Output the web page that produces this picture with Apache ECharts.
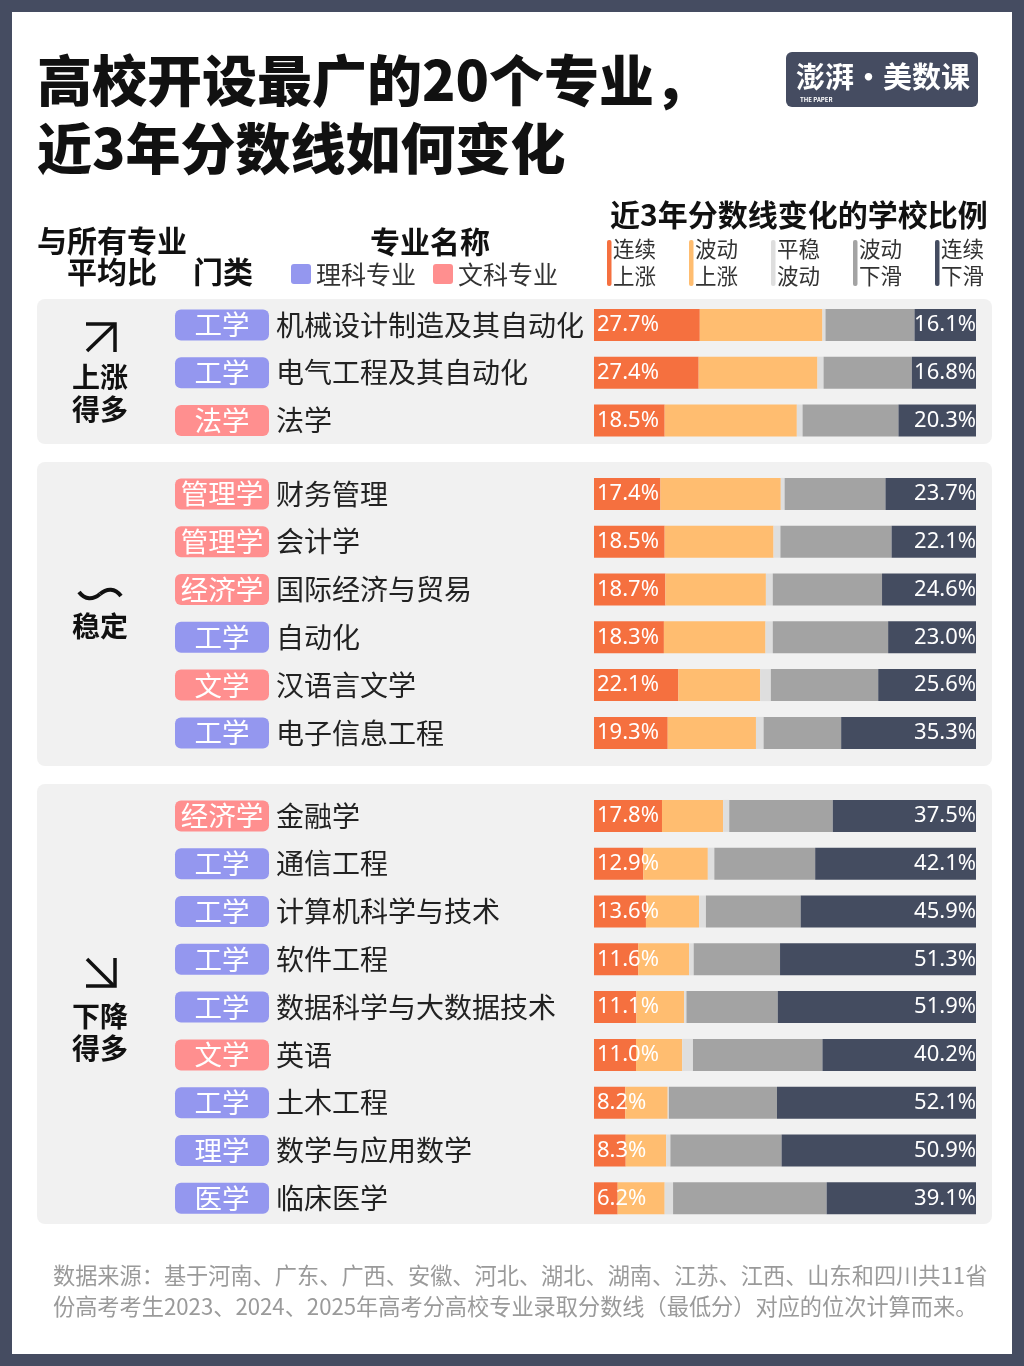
<!DOCTYPE html>
<html>
<head>
<meta charset="utf-8">
<script src="https://cdn.jsdelivr.net/npm/echarts@6/dist/echarts.min.js"></script>
<style>
    html, body { margin: 0; padding: 0; width: 100%; height: 100%; }
    #main { width: 1024px; height: 1366px; }
</style>
</head>
<body>
<div id="main"></div>
<script>
// 专业名称（从上到下）
var majors = ['机械设计制造及其自动化', '电气工程及其自动化', '法学',
    '财务管理', '会计学', '国际经济与贸易', '自动化', '汉语言文学', '电子信息工程',
    '金融学', '通信工程', '计算机科学与技术', '软件工程', '数据科学与大数据技术',
    '英语', '土木工程', '数学与应用数学', '临床医学'];
// 门类
var tags = ['工学', '工学', '法学',
    '管理学', '管理学', '经济学', '工学', '文学', '工学',
    '经济学', '工学', '工学', '工学', '工学', '文学', '工学', '理学', '医学'];
// 理科 / 文科
var kinds = ['sci', 'sci', 'art',
    'art', 'art', 'art', 'sci', 'art', 'sci',
    'art', 'sci', 'sci', 'sci', 'sci', 'art', 'sci', 'sci', 'sci'];
// 每组行数：上涨得多 / 稳定 / 下降得多
var groupSizes = [3, 6, 9];

// 五类学校比例（%）
var riseAll   = [27.7, 27.4, 18.5, 17.4, 18.5, 18.7, 18.3, 22.1, 19.3, 17.8, 12.9, 13.6, 11.6, 11.1, 11.0, 8.2, 8.3, 6.2];
var riseWave  = [32.1, 31.1, 34.6, 31.5, 28.5, 26.3, 26.6, 21.4, 23.1, 16.0, 16.9, 13.9, 13.3, 12.5, 12.1, 11.1, 10.6, 12.3];
var flat      = [0.8, 1.6, 1.5, 1.0, 1.8, 1.8, 1.9, 2.8, 2.0, 1.6, 1.7, 1.8, 1.2, 0.6, 2.8, 0.3, 1.1, 2.2];
var fallWave  = [23.3, 23.1, 25.1, 26.4, 29.1, 28.6, 30.2, 28.1, 20.3, 27.1, 26.4, 24.8, 22.6, 23.9, 33.9, 28.3, 29.1, 40.2];
var fallAll   = [16.1, 16.8, 20.3, 23.7, 22.1, 24.6, 23.0, 25.6, 35.3, 37.5, 42.1, 45.9, 51.3, 51.9, 40.2, 52.1, 50.9, 39.1];

var seriesNames = ['连续上涨', '波动上涨', '平稳波动', '波动下滑', '连续下滑'];
var seriesData = [riseAll, riseWave, flat, fallWave, fallAll];
var colors = ['#f5703f', '#ffbd70', '#dedede', '#a3a3a3', '#444c60'];

var CJK = "'Noto Sans CJK SC', sans-serif";
var NUM = "'Noto Sans', 'Noto Sans CJK SC', sans-serif";

var chart = echarts.init(document.getElementById('main'));

// 三个分组各用一个 grid
var rowH = 47.8;
var groupTops = [301, 470, 792];
var grids = [], xAxes = [], yAxes = [], series = [];
var start = 0;
for (var g = 0; g < groupSizes.length; g++) {
    var n = groupSizes[g];
    var idx = [];
    for (var k = start; k < start + n; k++) idx.push(k);
    grids.push({ left: 594, width: 382, top: groupTops[g], height: n * rowH });
    xAxes.push({ type: 'value', gridIndex: g, min: 0, max: 100, show: false });
    yAxes.push({
        type: 'category', gridIndex: g, inverse: true,
        data: idx.map(function (i) { return majors[i]; }),
        axisLine: { show: false }, axisTick: { show: false },
        axisLabel: {
            interval: 0, align: 'left', margin: 419,
            formatter: (function (ids) {
                return function (v, j) {
                    var i = ids[j];
                    return '{' + kinds[i] + '|' + tags[i] + '}{name|' + v + '}';
                };
            })(idx),
            rich: {
                sci: { backgroundColor: '#9497ef', color: '#fff', width: 94, height: 31, lineHeight: 31,
                       align: 'center', borderRadius: 6, fontSize: 27.5, fontFamily: CJK },
                art: { backgroundColor: '#ff8f8f', color: '#fff', width: 94, height: 31, lineHeight: 31,
                       align: 'center', borderRadius: 6, fontSize: 27.5, fontFamily: CJK },
                name: { color: '#222', fontSize: 28, fontFamily: CJK, padding: [0, 0, 0, 7] }
            }
        }
    });
    for (var s = 0; s < 5; s++) {
        var lbl = { show: false };
        if (s === 0 || s === 4) {
            lbl = {
                show: true, position: s === 0 ? 'insideLeft' : 'insideRight',
                distance: s === 0 ? 3 : 0,
                color: '#fff', fontSize: 22, fontFamily: NUM,
                formatter: function (p) { return p.value.toFixed(1) + '%'; }
            };
        }
        series.push({
            type: 'bar', name: seriesNames[s], stack: 'g' + g,
            xAxisIndex: g, yAxisIndex: g, barWidth: 32,
            itemStyle: { color: colors[s] },
            label: lbl, silent: true,
            data: idx.map(function (i) { return seriesData[s][i]; })
        });
    }
    start += n;
}

function txt(x, y, text, size, weight, color, align) {
    return {
        type: 'text', x: x, y: y, z: 5,
        style: {
            text: text, fontSize: size, fontWeight: weight || 'normal', fill: color || '#111',
            fontFamily: CJK, textAlign: align || 'left', textVerticalAlign: 'middle'
        }
    };
}

var graphics = [
    { type: 'rect', z: -10, shape: { x: 12, y: 12, width: 1000, height: 1342 }, style: { fill: '#fff' } },
    { type: 'rect', z: -5, shape: { x: 37, y: 299, width: 955, height: 145, r: 8 }, style: { fill: '#f1f1f1' } },
    { type: 'rect', z: -5, shape: { x: 37, y: 462, width: 955, height: 304, r: 8 }, style: { fill: '#f1f1f1' } },
    { type: 'rect', z: -5, shape: { x: 37, y: 784, width: 955, height: 440, r: 8 }, style: { fill: '#f1f1f1' } },

    txt(37, 80, '高校开设最广的20个专业，', 55, 900, '#111'),
    txt(37, 148, '近3年分数线如何变化', 55, 900, '#111'),

    { type: 'rect', z: 4, shape: { x: 786, y: 52, width: 192, height: 55, r: 6 }, style: { fill: '#454c61' } },
    txt(883, 77, '澎湃·美数课', 29, 'bold', '#fff', 'center'),
    txt(800, 100, 'THE PAPER', 6, 'bold', '#fff'),

    txt(610, 215, '近3年分数线变化的学校比例', 30, 'bold', '#111'),
    txt(37, 241, '与所有专业', 30, 'bold', '#111'),
    txt(67, 272, '平均比', 30, 'bold', '#111'),
    txt(193, 272, '门类', 30, 'bold', '#111'),
    txt(370, 242, '专业名称', 30, 'bold', '#111'),
    { type: 'rect', z: 4, shape: { x: 291, y: 264, width: 20, height: 20, r: 3 }, style: { fill: '#9497ef' } },
    txt(316, 274, '理科专业', 25, 'normal', '#333'),
    { type: 'rect', z: 4, shape: { x: 433, y: 264, width: 20, height: 20, r: 3 }, style: { fill: '#ff8f8f' } },
    txt(458, 274, '文科专业', 25, 'normal', '#333'),

    // 分组说明
    { type: 'polyline', z: 5, shape: { points: [[87, 351], [115, 324]] }, style: { stroke: '#111', lineWidth: 3.5, fill: null } },
    { type: 'polyline', z: 5, shape: { points: [[86, 324], [115, 324], [115, 352]] }, style: { stroke: '#111', lineWidth: 3.5, fill: null } },
    txt(100, 377, '上涨', 28, 'bold', '#111', 'center'),
    txt(100, 409, '得多', 28, 'bold', '#111', 'center'),
    { type: 'bezierCurve', z: 5, shape: { x1: 79, y1: 592, cpx1: 85, cpy1: 600, cpx2: 93, cpy2: 600, x2: 100, y2: 594 },
      style: { stroke: '#111', lineWidth: 4, fill: null } },
    { type: 'bezierCurve', z: 5, shape: { x1: 100, y1: 594, cpx1: 107, cpy1: 588, cpx2: 115, cpy2: 588, x2: 121, y2: 596 },
      style: { stroke: '#111', lineWidth: 4, fill: null } },
    txt(100, 626, '稳定', 28, 'bold', '#111', 'center'),
    { type: 'polyline', z: 5, shape: { points: [[87, 959], [114, 986]] }, style: { stroke: '#111', lineWidth: 3.5, fill: null } },
    { type: 'polyline', z: 5, shape: { points: [[86, 986], [115, 986], [115, 958]] }, style: { stroke: '#111', lineWidth: 3.5, fill: null } },
    txt(100, 1016, '下降', 28, 'bold', '#111', 'center'),
    txt(100, 1048, '得多', 28, 'bold', '#111', 'center'),

    txt(53, 1276, '数据来源：基于河南、广东、广西、安徽、河北、湖北、湖南、江苏、江西、山东和四川共11省', 22.2, 'normal', '#9a9a9a'),
    txt(53, 1307, '份高考考生2023、2024、2025年高考分高校专业录取分数线（最低分）对应的位次计算而来。', 22.2, 'normal', '#9a9a9a')
];

// 图例：竖条 + 两行文字
var legendX = [607, 689, 771, 853, 935];
var legendText = [['连续', '上涨'], ['波动', '上涨'], ['平稳', '波动'], ['波动', '下滑'], ['连续', '下滑']];
for (var m = 0; m < 5; m++) {
    graphics.push({ type: 'rect', z: 4, shape: { x: legendX[m], y: 240, width: 4.5, height: 46, r: 2 }, style: { fill: colors[m] } });
    graphics.push(txt(legendX[m] + 6, 249, legendText[m][0], 21.5, 'normal', '#333'));
    graphics.push(txt(legendX[m] + 6, 276, legendText[m][1], 21.5, 'normal', '#333'));
}

var option = {
    backgroundColor: '#454c61',
    animation: false,
    textStyle: { fontFamily: CJK },
    grid: grids,
    xAxis: xAxes,
    yAxis: yAxes,
    series: series,
    graphic: { elements: graphics }
};
chart.setOption(option);
</script>
</body>
</html>
